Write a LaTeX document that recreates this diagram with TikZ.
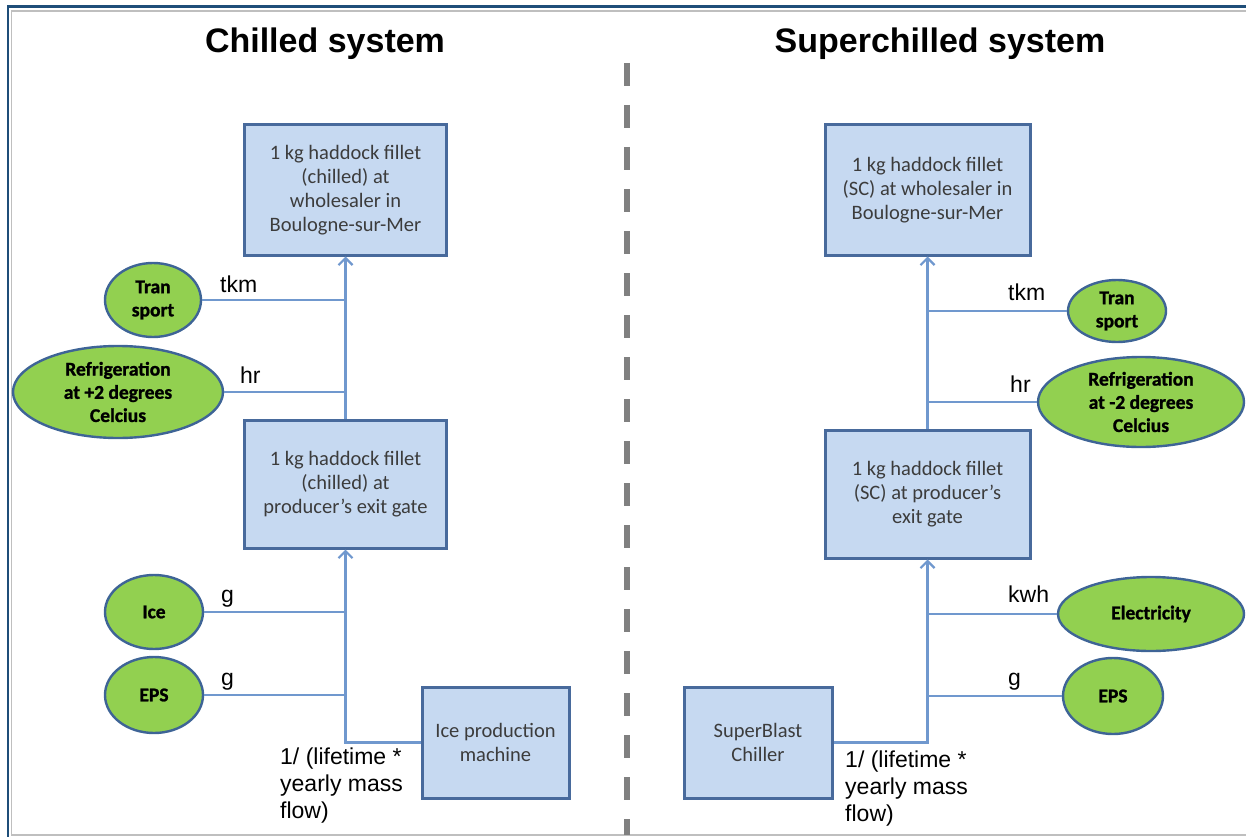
\documentclass[tikz,border=0pt]{standalone}
\usepackage{fontspec}
\setmainfont{Carlito}
\newfontfamily\arialf{Liberation Sans}
\newfontfamily\heavyf[FakeBold=1.2]{Carlito Bold}
\usetikzlibrary{arrows.meta,shapes.geometric}
\definecolor{boxfill}{RGB}{198,217,241}
\definecolor{boxline}{RGB}{72,106,156}
\definecolor{ellfill}{RGB}{146,208,80}
\definecolor{ellline}{RGB}{62,100,150}
\definecolor{conn}{RGB}{112,152,206}
\definecolor{frameblue}{RGB}{31,78,121}
\definecolor{framegray}{RGB}{191,191,191}
\definecolor{dashgray}{RGB}{128,128,128}
\definecolor{boxtext}{RGB}{60,60,60}
\begin{document}
\begin{tikzpicture}[x=1pt,y=-1pt,
  procbox/.style={rectangle, draw=boxline, line width=3pt, fill=boxfill, inner sep=0pt,
    align=center, text=boxtext, font=\fontsize{20.5}{23.8}\selectfont},
  flowell/.style={ellipse, draw=ellline, line width=2.4pt, fill=ellfill, inner sep=0pt,
    align=center, text=black, font=\heavyf\fontsize{19.5}{23.2}\selectfont},
  flowline/.style={draw=conn, line width=2.2pt},
  flowarrow/.style={flowline, -{Straight Barb[length=7pt,width=14pt,line width=2.2pt]}},
  qty/.style={font=\arialf\fontsize{23}{27}\selectfont, anchor=base west, inner sep=0pt, align=left},
  title/.style={font=\arialf\bfseries\fontsize{34}{40}\selectfont, anchor=base, inner sep=0pt}
]
\useasboundingbox (0,0) rectangle (1246,837);
% frame
\draw[framegray, line width=1.5pt] (1246,11) -- (11.5,11) -- (11.5,835) -- (1246,835);
\draw[frameblue, line width=2.5pt] (1246,6.5) -- (8,6.5) -- (8,837);
% divider
\draw[dashgray, line width=6pt, dash pattern=on 23pt off 19pt] (627,63) -- (627,835);
% titles
\node[title] (ltitle) at (325,53) {Chilled system};
\node[title] (rtitle) at (940,53) {Superchilled system};
% left system
\node[procbox, minimum width=202pt, minimum height=130pt] (ltop) at (345.5,190)
  {1 kg haddock fillet\\(chilled) at\\wholesaler in\\Boulogne-sur-Mer};
\node[procbox, minimum width=202pt, minimum height=128pt] (lmid) at (345.5,484)
  {1 kg haddock fillet\\(chilled) at\\producer’s exit gate};
\node[procbox, minimum width=147pt, minimum height=111pt] (icebox) at (495.5,742.5)
  {Ice production\\machine};
\node[flowell, minimum width=96pt, minimum height=74pt] (ltran) at (153,300) {Tran\\sport};
\node[flowell, minimum width=210pt, minimum height=92pt] (lrefr) at (118,392)
  {Refrigeration\\at +2 degrees\\Celcius};
\node[flowell, minimum width=98pt, minimum height=74pt] (lice) at (154,612) {Ice};
\node[flowell, minimum width=98pt, minimum height=76pt] (leps) at (154,695) {EPS};
\draw[flowarrow] (icebox.west) -| (lmid.south);
\draw[flowarrow] (lmid.north) -- (ltop.south);
\draw[flowline] (lice.east) -- (lice.east -| lmid.south);
\draw[flowline] (leps.east) -- (leps.east -| lmid.south);
\draw[flowline] (ltran.east) -- (ltran.east -| ltop.south);
\draw[flowline] (lrefr.east) -- (lrefr.east -| ltop.south);
\node[qty] (ltkm) at (220,292) {tkm};
\node[qty] (lhr) at (240,383) {hr};
\node[qty] (lg1) at (221,602) {g};
\node[qty] (lg2) at (221,685) {g};
\node[qty] (lform) at (280,818) {1/ (lifetime *\\yearly mass\\flow)};
% right system
\node[procbox, minimum width=205pt, minimum height=130pt] (rtop) at (927.5,190)
  {1 kg haddock fillet\\(SC) at wholesaler in\\Boulogne-sur-Mer};
\node[procbox, minimum width=205pt, minimum height=128pt] (rmid) at (927.5,494)
  {1 kg haddock fillet\\(SC) at producer’s\\exit gate};
\node[procbox, minimum width=148pt, minimum height=111pt] (sbc) at (758,742.5)
  {SuperBlast\\Chiller};
\node[flowell, minimum width=98pt, minimum height=62pt] (rtran) at (1117,311) {Tran\\sport};
\node[flowell, minimum width=206pt, minimum height=90pt] (rrefr) at (1141,402)
  {Refrigeration\\at -2 degrees\\Celcius};
\node[flowell, minimum width=186pt, minimum height=74pt] (relec) at (1151,614) {Electricity};
\node[flowell, minimum width=100pt, minimum height=76pt] (reps) at (1113,696) {EPS};
\draw[flowarrow] (sbc.east) -| (rmid.south);
\draw[flowarrow] (rmid.north) -- (rtop.south);
\draw[flowline] (rtran.west) -- (rtran.west -| rtop.south);
\draw[flowline] (rrefr.west) -- (rrefr.west -| rtop.south);
\draw[flowline] (relec.west) -- (relec.west -| rmid.south);
\draw[flowline] (reps.west) -- (reps.west -| rmid.south);
\node[qty] (rtkm) at (1008,300) {tkm};
\node[qty] (rhr) at (1010,392) {hr};
\node[qty] (rkwh) at (1008,602) {kwh};
\node[qty] (rg) at (1008,685) {g};
\node[qty] (rform) at (845,821) {1/ (lifetime *\\yearly mass\\flow)};
\end{tikzpicture}
\end{document}
